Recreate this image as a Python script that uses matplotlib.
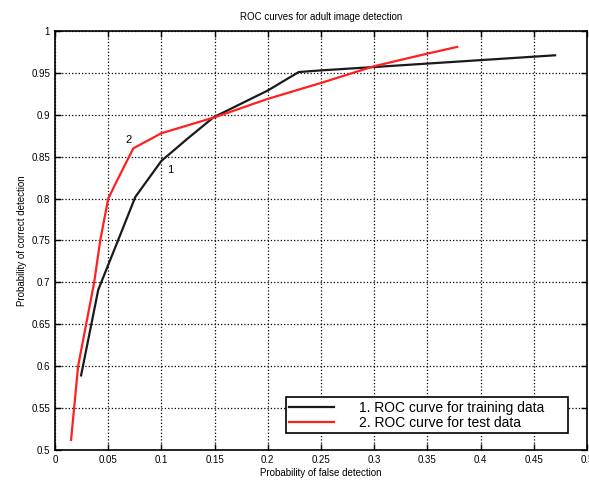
import matplotlib.pyplot as plt
import numpy as np

# ===== data =====
train_fp = [0.0245, 0.0406, 0.0592, 0.0755, 0.100, 0.125, 0.149, 0.200, 0.229, 0.250, 0.300, 0.470]
train_pd = [0.589, 0.691, 0.750, 0.802, 0.845, 0.872, 0.897, 0.929, 0.951, 0.953, 0.957, 0.971]

test_fp = [0.0151, 0.0217, 0.0368, 0.0425, 0.050, 0.0585, 0.0736, 0.100, 0.150, 0.200, 0.250, 0.300, 0.350, 0.378]
test_pd = [0.512, 0.600, 0.700, 0.750, 0.800, 0.822, 0.860, 0.878, 0.897, 0.919, 0.938, 0.958, 0.973, 0.981]

x_ticks = [0, 0.05, 0.1, 0.15, 0.2, 0.25, 0.3, 0.35, 0.4, 0.45, 0.5]
x_ticklabels = ['0', '0.05', '0.1', '0.15', '0.2', '0.25', '0.3', '0.35', '0.4', '0.45', '0.5']
y_ticks = [0.5, 0.55, 0.6, 0.65, 0.7, 0.75, 0.8, 0.85, 0.9, 0.95, 1.0]
y_ticklabels = ['0.5', '0.55', '0.6', '0.65', '0.7', '0.75', '0.8', '0.85', '0.9', '0.95', '1']

plt.rcParams.update({
    'font.family': 'Liberation Sans',
    'font.size': 7,
})

fig = plt.figure(figsize=(5.89, 4.82), dpi=100)
ax = fig.add_axes([0.0934, 0.0664, 0.9032, 0.8693])

ax.plot(train_fp, train_pd, color='#1a1a1a', lw=1.6, label='1. ROC curve for training data')
ax.plot(test_fp, test_pd, color='#ff2020', lw=1.6, label='2. ROC curve for test data')

ax.text(0.108, 0.834, '1', fontsize=8, ha='center', va='center')
ax.text(0.069, 0.870, '2', fontsize=8, ha='center', va='center')

ax.set_xlim(0, 0.5)
ax.set_ylim(0.5, 1.0)
ax.set_xticks(x_ticks)
ax.set_xticklabels(x_ticklabels)
ax.set_yticks(y_ticks)
ax.set_yticklabels(y_ticklabels)
ax.tick_params(direction='in', top=True, right=True, length=4, width=1, labelsize=7)
for s in ax.spines.values():
    s.set_linewidth(1.2)

ax.grid(True, linestyle=':', color='black', linewidth=0.9)

ax.set_title('ROC curves for adult image detection', fontsize=7, pad=8)
ax.set_xlabel('Probability of false detection', fontsize=7, labelpad=2)
ax.set_ylabel('Probability of correct detection', fontsize=7, labelpad=3)

leg = ax.legend(loc='lower left', bbox_to_anchor=(0.421, 0.024, 0.556, 0.107), mode='expand',
                fontsize=10, frameon=True, fancybox=False, edgecolor='black',
                framealpha=1, handlelength=3.2, handletextpad=1.8,
                borderpad=0.25, labelspacing=0.05)
leg.get_frame().set_linewidth(1.2)

fig.savefig('out.png', dpi=100)
